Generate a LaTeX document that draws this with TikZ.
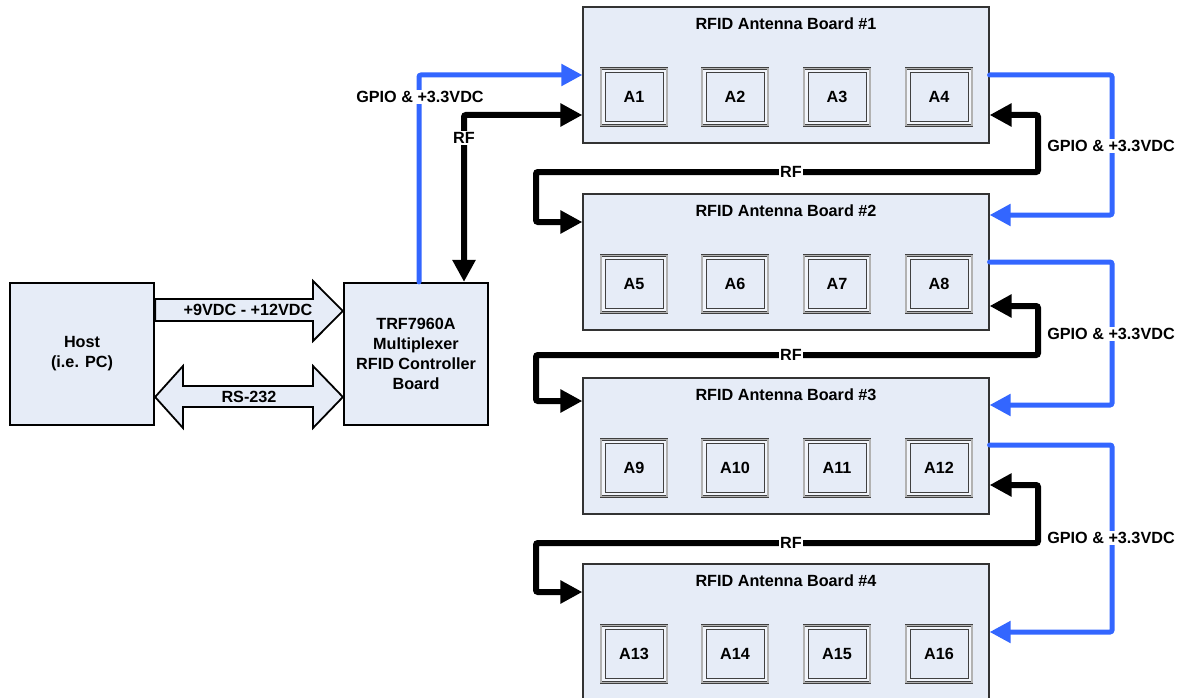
\documentclass[tikz,border=0pt]{standalone}
\usepackage{fontspec}
\setmainfont{Liberation Sans}
\usetikzlibrary{arrows.meta,backgrounds}
\definecolor{boxfill}{RGB}{230,236,247}
\definecolor{gapfill}{RGB}{242,245,251}
\definecolor{gpioblue}{RGB}{51,102,255}
\begin{document}
\begin{tikzpicture}[x=1pt,y=-1pt,
  every node/.style={font=\fontsize{16.2}{20}\selectfont\bfseries},
  mainbox/.style={draw=black, line width=2.2pt, fill=boxfill, minimum width=144pt, minimum height=142pt, align=center, inner sep=0pt},
  board/.style={draw=black!80, line width=1.2pt, fill=boxfill, minimum width=406pt, minimum height=136pt, inner sep=0pt},
  antenna/.style={draw=black!75, double=gray!60, double distance=1.4pt, line width=0.7pt, fill=gapfill, minimum width=66pt, minimum height=57pt, inner sep=0pt,
    path picture={\draw[black!75, line width=0.8pt, fill=boxfill] ([shift={(4pt,4pt)}]path picture bounding box.south west) rectangle ([shift={(-4pt,-4pt)}]path picture bounding box.north east);}},
  blockarrow/.style={draw=black, line width=1.8pt, fill=boxfill, line join=miter},
  gpio/.style={draw=gpioblue, line width=5pt, rounded corners=2pt, line cap=round, -{Triangle[length=21pt,width=21pt]}},
  rf/.style={draw=black, line width=6pt, rounded corners=2pt, {Triangle[length=22pt,width=22pt]}-{Triangle[length=22pt,width=22pt]}},
  lbl/.style={fill=white, inner sep=1.5pt}
]
\useasboundingbox (0,0) rectangle (1185,698);

% main boxes
\node[mainbox] (host) at (82,354) {Host\\(i.e. PC)};
\node[mainbox] (ctrl) at (416,354) {TRF7960A\\Multiplexer\\RFID Controller\\Board};

% block arrows
\begin{scope}[on background layer]
\draw[blockarrow] (host.east |- 0,299) -- (313,299) -- (313,281) -- (ctrl.west |- 0,311) -- (313,341) -- (313,321) -- (host.east |- 0,321) -- cycle;
\draw[blockarrow] (host.east |- 0,397) -- (183,366) -- (183,386) -- (313,386) -- (313,366) -- (ctrl.west |- 0,397) -- (313,428) -- (313,407) -- (183,407) -- (183,428) -- cycle;
\end{scope}
\node (pwr) at (248,310) {+9VDC - +12VDC};
\node (rs) at (249,397) {RS-232};

% antenna boards
\foreach \i/\y in {1/75,2/262,3/446,4/632} {
  \node[board] (b\i) at (786,\y) {};
  \node (t\i) at (786,\y-51) {RFID Antenna Board \#\i};
  \foreach \k/\ax in {1/634,2/735,3/837,4/939} {
    \pgfmathtruncatemacro\n{4*(\i-1)+\k}
    \node[antenna] (a\n) at (\ax,\y+22) {A\n};
  }
}

% controller to board 1
\draw[gpio] (419,0 |- ctrl.north) -- (419,75) -- (b1.west |- 0,75);
\node[lbl] (g0) at (420,97) {GPIO \& +3.3VDC};
\draw[rf] (b1.west |- 0,115) -- (464,115) -- (464,0 |- ctrl.north);
\node[lbl] (r0) at (464,138) {RF};

% board to board connections
\foreach \i/\j/\bo/\bi/\ya/\yb/\yc/\yg in {1/2/75/215/115/172/222/146, 2/3/262/405/306/355/401/334, 3/4/445/632/485/543/592/538} {
  \draw[gpio] (b\i.east |- 0,\bo) -- (1112,\bo) -- (1112,\bi) -- (b\j.east |- 0,\bi);
  \node[lbl] (g\i) at (1111,\yg) {GPIO \& +3.3VDC};
  \draw[rf] (b\i.east |- 0,\ya) -- (1038,\ya) -- (1038,\yb) -- (536,\yb) -- (536,\yc) -- (b\j.west |- 0,\yc);
  \node[lbl] (r\i) at (791,\yb) {RF};
}
\end{tikzpicture}
\end{document}
